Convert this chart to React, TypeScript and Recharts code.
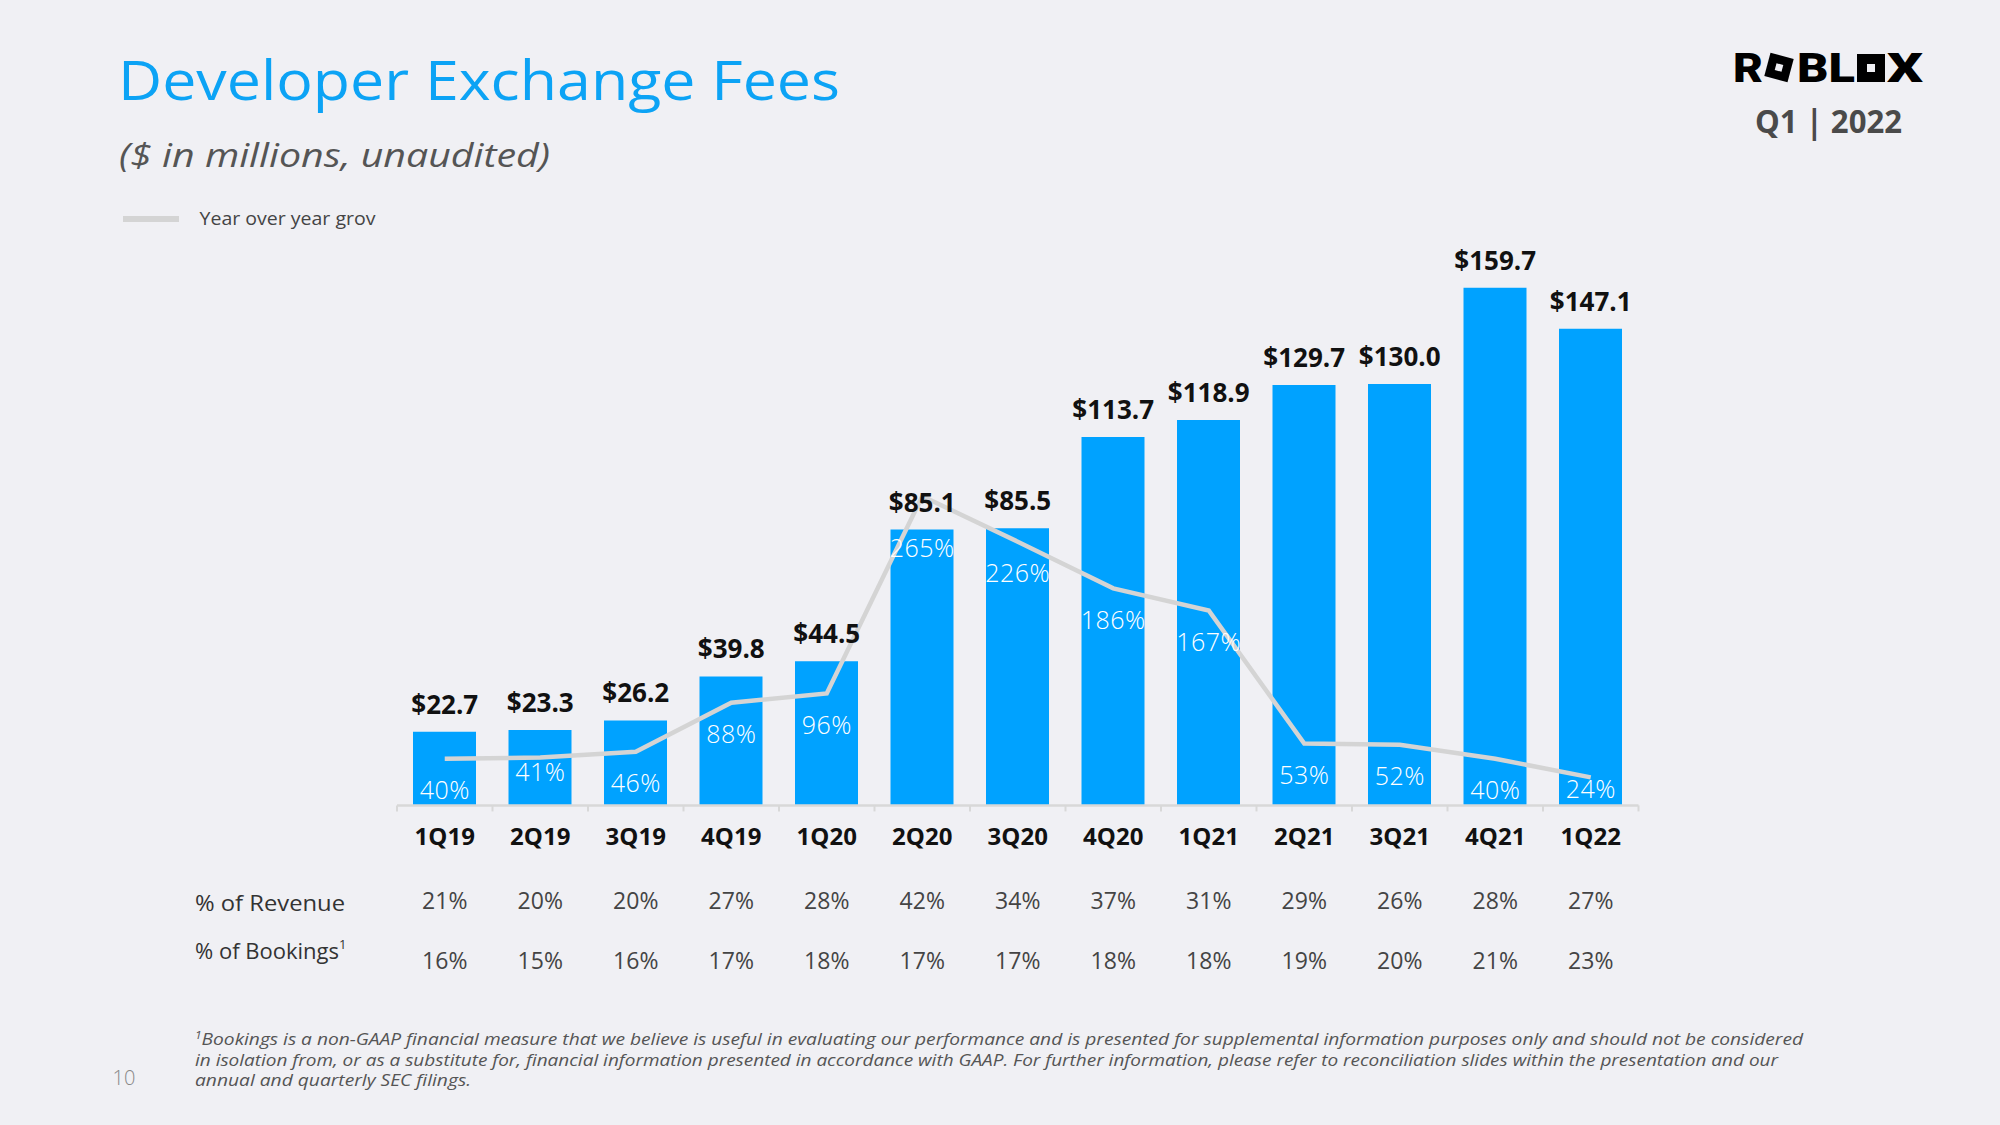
import React from 'react';
import { ComposedChart, Bar, Line, XAxis, YAxis } from 'recharts';

const quarters = ['1Q19', '2Q19', '3Q19', '4Q19', '1Q20', '2Q20', '3Q20', '4Q20', '1Q21', '2Q21', '3Q21', '4Q21', '1Q22'];
const fees = [22.7, 23.3, 26.2, 39.8, 44.5, 85.1, 85.5, 113.7, 118.9, 129.7, 130.0, 159.7, 147.1];
const yoyGrowth = [40, 41, 46, 88, 96, 265, 226, 186, 167, 53, 52, 40, 24];
const pctOfRevenue = [21, 20, 20, 27, 28, 42, 34, 37, 31, 29, 26, 28, 27];
const pctOfBookings = [16, 15, 16, 17, 18, 17, 17, 18, 18, 19, 20, 21, 23];

const footnoteLines = [
  'Bookings is a non-GAAP financial measure that we believe is useful in evaluating our performance and is presented for supplemental information purposes only and should not be considered',
  'in isolation from, or as a substitute for, financial information presented in accordance with GAAP. For further information, please refer to reconciliation slides within the presentation and our',
  'annual and quarterly SEC filings.',
];

const data = quarters.map((q, i) => ({
  quarter: q,
  fees: fees[i],
  growth: yoyGrowth[i],
  rev: pctOfRevenue[i],
  book: pctOfBookings[i],
}));

const BG = '#F0F0F4';
const BLUE = '#00A2FF';
const FONT = "'Open Sans', 'Noto Sans', sans-serif";
const W = 2000;
const H = 1125;
const MARGIN = { top: 222, right: 361.5, bottom: 259.6, left: 397 };
const BAND = (W - MARGIN.left - MARGIN.right) / quarters.length;

// small label nudges (style only)
const growthLabelNudge: Record<number, number> = { 1: -17, 5: 20, 12: -20 };

const QuarterTick = (props: any) => {
  const { x, y, payload, index } = props;
  const i = payload?.index ?? index;
  return (
    <g>
      <line x1={x - BAND / 2} x2={x - BAND / 2} y1={y} y2={y + 6} stroke="#d8d8d8" strokeWidth={2} />
      {i === quarters.length - 1 && (
        <line x1={x + BAND / 2} x2={x + BAND / 2} y1={y} y2={y + 6} stroke="#d8d8d8" strokeWidth={2} />
      )}
      <text x={x} y={y + 40} textAnchor="middle" fontFamily={FONT} fontWeight={700} fontSize={24} fill="#111">
        {payload.value}
      </text>
      <text x={x} y={y + 104} textAnchor="middle" fontFamily={FONT} fontSize={23} fill="#444">
        {pctOfRevenue[i]}%
      </text>
      <text x={x} y={y + 164} textAnchor="middle" fontFamily={FONT} fontSize={23} fill="#444">
        {pctOfBookings[i]}%
      </text>
    </g>
  );
};

const renderGrowthLabel = (p: any) => {
  const nudge = growthLabelNudge[p.index] || 0;
  return (
    <text
      key={`g-${p.index}`}
      x={p.cx}
      y={p.cy + 40.5 + nudge}
      textAnchor="middle"
      fontFamily={FONT}
      fontWeight={300}
      fontSize={25}
      letterSpacing={0.5}
      fill="#ffffff"
    >
      {p.value}%
    </text>
  );
};

const renderFeeLabel = (p: any) => (
  <text
    key={`f-${p.index}`}
    x={p.cx}
    y={p.cy - 18}
    textAnchor="middle"
    fontFamily={FONT}
    fontWeight={700}
    fontSize={26}
    fill="#111"
  >
    ${Number(p.value).toFixed(1)}
  </text>
);

export default function App() {
  return (
    <div style={{ position: 'absolute', left: 0, top: 0, width: W, height: H, background: BG, overflow: 'hidden' }}>
      <svg width={W} height={H} style={{ position: 'absolute', left: 0, top: 0 }}>
        <text x={118} y={100} fontFamily={FONT} fontSize={54} fill="#0CA3F5" textLength={722} lengthAdjust="spacingAndGlyphs">
          Developer Exchange Fees
        </text>
        <text x={119} y={167} fontFamily={FONT} fontStyle="italic" fontSize={33} fill="#555" textLength={431} lengthAdjust="spacingAndGlyphs">
          ($ in millions,  unaudited)
        </text>
        <line x1={123} x2={179} y1={219} y2={219} stroke="#d4d4d4" strokeWidth={6} />
        <text x={199.5} y={225} fontFamily={FONT} fontSize={19} fill="#444" textLength={176} lengthAdjust="spacingAndGlyphs">
          Year over year grov
        </text>

        {/* logo */}
        <g fill="#000" fontFamily="Roboto, 'Open Sans', sans-serif" fontWeight={900}>
          <text x={1733} y={82} fontSize={40} textLength={30} lengthAdjust="spacingAndGlyphs">R</text>
          <g transform="rotate(15 1779 67.5)">
            <rect x={1767} y={55.5} width={24} height={24} fill="#000" />
            <rect x={1775.5} y={64} width={7} height={7} fill={BG} />
          </g>
          <text x={1797} y={82} fontSize={40} textLength={58} lengthAdjust="spacingAndGlyphs">BL</text>
          <rect x={1857} y={54} width={28} height={28} fill="#000" />
          <rect x={1867} y={64} width={8} height={8} fill={BG} />
          <text x={1887} y={82} fontSize={40} textLength={36} lengthAdjust="spacingAndGlyphs">X</text>
        </g>
        <text x={1755} y={133} fontFamily={FONT} fontWeight={700} fontSize={32} fill="#4a4a4a" textLength={147} lengthAdjust="spacingAndGlyphs">
          Q1 | 2022
        </text>

        {/* table row labels */}
        <text x={195} y={911} fontFamily={FONT} fontSize={22} fill="#333" textLength={150} lengthAdjust="spacingAndGlyphs">
          % of Revenue
        </text>
        <text x={195} y={959} fontFamily={FONT} fontSize={22} fill="#333">
          % of Bookings<tspan fontSize={13} dy={-10}>1</tspan>
        </text>

        {/* footnote */}
        <text x={195} y={1045} fontFamily={FONT} fontStyle="italic" fontSize={16} fill="#555" textLength={1608} lengthAdjust="spacingAndGlyphs">
          <tspan fontSize={10} dy={-6}>1</tspan>
          <tspan dy={6}>{footnoteLines[0]}</tspan>
        </text>
        <text x={195} y={1065.5} fontFamily={FONT} fontStyle="italic" fontSize={16} fill="#555" textLength={1583} lengthAdjust="spacingAndGlyphs">
          {footnoteLines[1]}
        </text>
        <text x={195} y={1086} fontFamily={FONT} fontStyle="italic" fontSize={16} fill="#555" textLength={276} lengthAdjust="spacingAndGlyphs">
          {footnoteLines[2]}
        </text>
        <text x={124} y={1085} textAnchor="middle" fontFamily={FONT} fontWeight={300} fontSize={20} fill="#888">
          10
        </text>
      </svg>

      <div style={{ position: 'absolute', left: 0, top: 0 }}>
        <ComposedChart width={W} height={H} data={data} margin={MARGIN}>
          <XAxis
            dataKey="quarter"
            height={60}
            interval={0}
            tickSize={0}
            tickMargin={0}
            tickLine={false}
            axisLine={{ stroke: '#d8d8d8', strokeWidth: 2.5 }}
            tick={(props: any) => <QuarterTick {...props} />}
          />
          <YAxis yAxisId="fees" hide domain={[0, 180]} tickCount={4} />
          <YAxis yAxisId="growth" hide orientation="right" domain={[0, 500]} tickCount={6} />
          <Bar yAxisId="fees" dataKey="fees" fill={BLUE} barSize={63} isAnimationActive={false} />
          <Line
            yAxisId="growth"
            dataKey="growth"
            type="linear"
            stroke="#d4d4d4"
            strokeWidth={4.5}
            dot={renderGrowthLabel}
            activeDot={false}
            isAnimationActive={false}
          />
          <Line
            yAxisId="fees"
            dataKey="fees"
            stroke="none"
            dot={renderFeeLabel}
            activeDot={false}
            isAnimationActive={false}
          />
        </ComposedChart>
      </div>
    </div>
  );
}
